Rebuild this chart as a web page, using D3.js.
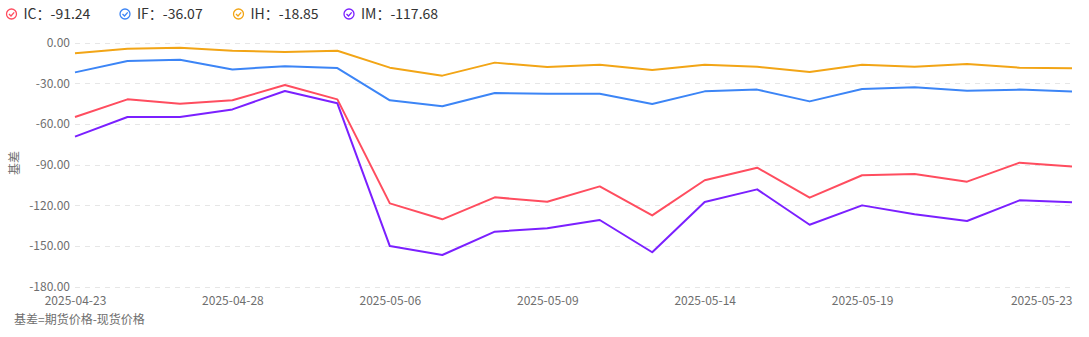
<!DOCTYPE html>
<html><head><meta charset="utf-8">
<script src="https://cdn.jsdelivr.net/npm/d3@7"></script>
<style>
body{margin:0;background:#fff;font-family:"Microsoft YaHei","Noto Sans CJK SC",sans-serif;}
svg{display:block}
</style></head>
<body><svg id="c" width="1089" height="337"></svg>
<script>
const dates = ["2025-04-23","2025-04-24","2025-04-25","2025-04-28","2025-04-29","2025-04-30","2025-05-06","2025-05-07","2025-05-08","2025-05-09","2025-05-12","2025-05-13","2025-05-14","2025-05-15","2025-05-16","2025-05-19","2025-05-20","2025-05-21","2025-05-22","2025-05-23"];
const xTickLabels = ["2025-04-23","2025-04-28","2025-05-06","2025-05-09","2025-05-14","2025-05-19","2025-05-23"];
const yTicks = [0,-30,-60,-90,-120,-150,-180];
const seriesNames = ["IC","IF","IH","IM"];
const IC = [-54.8,-41.8,-45.0,-42.5,-31.2,-41.8,-118.5,-130.3,-114.1,-117.3,-106.0,-127.4,-101.5,-92.2,-114.3,-97.8,-96.9,-102.5,-88.5,-91.24];
const IF = [-21.9,-13.5,-12.5,-19.7,-17.4,-18.7,-42.5,-46.9,-37.1,-37.6,-37.6,-45.2,-35.9,-34.6,-43.3,-34.2,-32.9,-35.4,-34.6,-36.07];
const IH = [-7.8,-4.4,-3.7,-5.9,-6.9,-5.9,-18.4,-24.3,-14.7,-17.9,-16.2,-20.1,-16.2,-17.7,-21.6,-16.2,-17.7,-15.7,-18.4,-18.85];
const IM = [-69.3,-54.8,-54.8,-49.2,-35.6,-44.7,-150.0,-156.6,-139.4,-136.9,-130.8,-154.6,-117.5,-108.2,-134.3,-120.0,-126.6,-131.5,-116.3,-117.68];
const colors = ["#ff4d5f","#3c85f6","#f2a516","#7b20ff"];
const seriesData = [IC, IF, IH, IM];

const fmt = v => d3.format(".2f")(v).replace("\u2212", "-");
const FONT = "'Microsoft YaHei','Noto Sans CJK SC',sans-serif";

const svg = d3.select("#c");
const x = d3.scalePoint().domain(dates).range([75, 1072]);
const y = d3.scaleLinear().domain([-180, 0]).range([286.7, 42.7]);

// grid
svg.append("g").selectAll("line").data(yTicks).join("line")
  .attr("x1", 75).attr("x2", 1072)
  .attr("y1", d => Math.round(y(d)) + 0.5).attr("y2", d => Math.round(y(d)) + 0.5)
  .attr("stroke", "#e6e6e6").attr("stroke-dasharray", "5,5").attr("stroke-width", 1);

// y axis labels
const yAxis = d3.axisLeft(y).tickValues(yTicks).tickFormat(fmt).tickSize(0).tickPadding(0);
const ya = svg.append("g").attr("transform", "translate(70,0)").call(yAxis);
ya.select(".domain").remove();
ya.selectAll("text").attr("fill", "#6e6e6e").style("font-size", "12px").style("font-family", FONT);

// x axis labels
const xAxis = d3.axisBottom(x).tickValues(xTickLabels).tickSize(0).tickPadding(0);
const xa = svg.append("g").attr("transform", "translate(0,296)").call(xAxis);
xa.select(".domain").remove();
xa.selectAll("text").attr("fill", "#6e6e6e").style("font-size", "12px").attr("dy", "0.71em").style("font-family", FONT)
  .attr("text-anchor", d => d === dates[dates.length - 1] ? "end" : "middle");

// y title
svg.append("text").attr("transform", "translate(15,163) rotate(-90)").attr("text-anchor", "middle").attr("dy", "0.35em")
  .attr("fill", "#6e6e6e").style("font-size", "12px").text("基差");

// lines
const line = d3.line().x((d, i) => x(dates[i])).y(d => y(d));
seriesData.forEach((s, k) => {
  svg.append("path").datum(s).attr("d", line).attr("fill", "none")
    .attr("stroke", colors[k]).attr("stroke-width", 2).attr("stroke-linejoin", "round");
});

// legend
const legendX = [6, 119.5, 233, 343.5];
seriesNames.forEach((n, k) => {
  const g = svg.append("g").attr("transform", `translate(${legendX[k]},14)`);
  g.append("circle").attr("cx", 5.5).attr("cy", 0).attr("r", 5).attr("fill", "none").attr("stroke", colors[k]).attr("stroke-width", 1.3);
  g.append("path").attr("d", "M3,0 L5,2 L8.2,-1.6").attr("fill", "none").attr("stroke", colors[k]).attr("stroke-width", 1.3);
  const last = seriesData[k][seriesData[k].length - 1];
  g.append("text").attr("x", 17.5).attr("y", 0).attr("dy", "0.35em").attr("fill", "#333")
    .style("font-size", "14px").text(`${n}：${fmt(last)}`);
});

// footer
svg.append("text").attr("x", 14).attr("y", 324).attr("fill", "#6e6e6e").style("font-size", "12px").text("基差=期货价格-现货价格");
</script></body></html>
